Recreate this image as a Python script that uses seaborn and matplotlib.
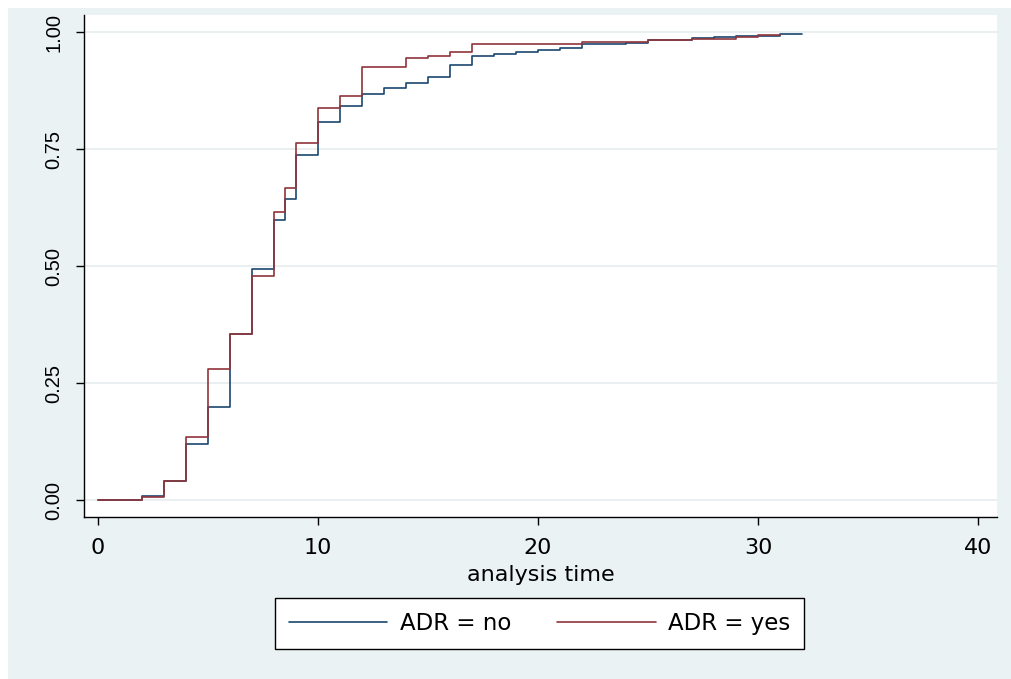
import numpy as np
import pandas as pd
import matplotlib
matplotlib.use("Agg")
import matplotlib.pyplot as plt
import seaborn as sns
from matplotlib.patches import Rectangle

# ===============================
# Data
# ===============================
time_no = [0, 2, 3, 4, 5, 6, 7, 8, 8.5, 9, 10, 11, 12, 13, 14, 15, 16, 17, 18,
           19, 20, 21, 22, 24, 25, 27, 28, 29, 31, 32]
fail_no = [0.0, 0.010, 0.041, 0.120, 0.200, 0.355, 0.494, 0.600, 0.643, 0.737,
           0.808, 0.842, 0.868, 0.881, 0.892, 0.905, 0.931, 0.949, 0.953, 0.957,
           0.963, 0.967, 0.974, 0.977, 0.983, 0.987, 0.990, 0.993, 0.996, 0.996]

time_yes = [0, 2, 3, 4, 5, 6, 7, 8, 8.5, 9, 10, 11, 12, 14, 15, 16, 17, 22, 25,
            27, 29, 30, 31]
fail_yes = [0.0, 0.006, 0.041, 0.135, 0.280, 0.355, 0.479, 0.616, 0.667, 0.764,
            0.839, 0.863, 0.926, 0.945, 0.949, 0.957, 0.976, 0.979, 0.983, 0.986,
            0.991, 0.995, 0.995]

groups = ["ADR = no", "ADR = yes"]
colors = ["#1A476F", "#90353B"]

df = pd.concat([
    pd.DataFrame({"time": time_no, "failure": fail_no, "group": groups[0]}),
    pd.DataFrame({"time": time_yes, "failure": fail_yes, "group": groups[1]}),
], ignore_index=True)

# ===============================
# Figure
# ===============================
sns.set_style("white")
plt.rcParams["font.family"] = ["Liberation Sans", "DejaVu Sans"]
plt.rcParams["text.color"] = "black"
plt.rcParams["xtick.color"] = "black"
plt.rcParams["ytick.color"] = "black"
plt.rcParams["axes.labelcolor"] = "black"
wide = ["DejaVu Sans"]  # the screenshot's horizontal texts look stretched

bg = "#EAF2F3"
fig = plt.figure(figsize=(10.11, 6.79), dpi=100, facecolor=bg)
# white strips where the screenshot was cropped
fig.patches.append(Rectangle((0, 1 - 8 / 679), 1, 8 / 679, transform=fig.transFigure,
                             facecolor="white", edgecolor="none", zorder=0))
fig.patches.append(Rectangle((0, 0), 8 / 1011, 1, transform=fig.transFigure,
                             facecolor="white", edgecolor="none", zorder=0))

ax = fig.add_axes([84 / 1011, 1 - 517 / 679, 913 / 1011, 502 / 679])
ax.set_facecolor("white")

sns.lineplot(data=df, x="time", y="failure", hue="group", palette=colors,
             drawstyle="steps-post", estimator=None, linewidth=1.2, ax=ax,
             legend=False)

ax.set_xlim(-0.636, 40.86)
ax.set_ylim(-0.0357, 1.037)
ax.set_xticks([0, 10, 20, 30, 40])
ax.set_xticklabels(["0", "10", "20", "30", "40"], family=wide, fontsize=16)
ax.set_yticks([0, 0.25, 0.5, 0.75, 1.0])
ax.set_yticklabels(["0.00", "0.25", "0.50", "0.75", "1.00"], rotation=90, va="center",
                   fontsize=14.5)
ax.yaxis.grid(True, color="#E6EEF0", linewidth=1.2)
ax.set_axisbelow(True)

for side in ["top", "right"]:
    ax.spines[side].set_visible(False)
for side in ["left", "bottom"]:
    ax.spines[side].set_color("black")
    ax.spines[side].set_linewidth(1.0)

ax.tick_params(axis="both", direction="out", length=6, width=1, color="black",
               labelcolor="black", left=True, bottom=True)
ax.tick_params(axis="x", pad=9)
ax.tick_params(axis="y", pad=9)
ax.set_xlabel("analysis time", fontsize=16, family=wide, color="black", labelpad=5)
ax.set_ylabel("")

handles = [plt.Line2D([], [], color=c, linewidth=1.2) for c in colors]
leg = fig.legend(handles, groups, loc="center", bbox_to_anchor=(539.5 / 1011, 1 - 623.5 / 679),
                 ncol=2, prop={"family": wide, "size": 16.5}, frameon=True, fancybox=False,
                 facecolor="white", edgecolor="black", framealpha=1, handlelength=4.3,
                 handletextpad=0.55, columnspacing=2.0, borderpad=0.6)
leg.get_frame().set_linewidth(1.0)
for t in leg.get_texts():
    t.set_color("black")

fig.savefig("out.png", dpi=100, facecolor=bg)
